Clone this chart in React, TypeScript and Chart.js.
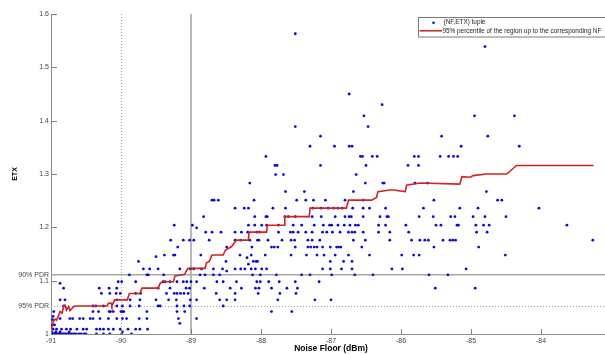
import { useEffect, useRef } from "react";
import { Chart, registerables } from "chart.js";

Chart.register(...registerables);

// Reference PDR thresholds expressed as ETX
const PDR90 = 1 / 0.9;
const PDR95 = 1 / 0.95;

const xTicks = [-91, -90, -89, -88, -87, -86, -85, -84];
const yTicks = [1, 1.1, 1.2, 1.3, 1.4, 1.5, 1.6];

// (NF, ETX) tuples, grouped by ETX level
const etxLevels = [
  1.0, 1.004, 1.009, 1.017, 1.02, 1.027, 1.029, 1.033, 1.042, 1.0525, 1.064, 1.076, 1.086, 1.095, 1.098,
  1.111, 1.118, 1.122, 1.131, 1.136, 1.143, 1.145, 1.148, 1.163, 1.176, 1.191, 1.199, 1.204, 1.22, 1.236,
  1.251, 1.267, 1.283, 1.299, 1.316, 1.333, 1.352, 1.371, 1.389, 1.409, 1.43, 1.45, 1.539, 1.563,
];

const nfByLevel = [
  [-91.0, -90.99, -90.98, -90.97, -90.96, -90.95, -90.94, -90.93, -90.92, -90.9, -90.88, -90.86, -90.84, -90.82, -90.8, -90.78, -90.76, -90.73, -90.7, -90.67, -90.64, -90.6, -90.57, -90.53, -90.5, -90.35, -90.25, -90.16, -89.99, -89.85],
  [-90.99, -90.93, -90.87, -90.74, -89.98],
  [-90.97, -90.92, -90.85, -90.78, -90.72, -90.63, -90.54, -90.49, -90.35, -90.3, -90.25, -90.18, -90.11, -90.01, -89.9, -89.79, -89.73, -89.62],
  [-90.98, -90.95],
  [-89.16],
  [-90.98],
  [-90.87, -90.73, -90.69, -90.59, -90.54, -90.44, -90.4, -90.3, -90.18, -90.06, -89.98, -89.92, -89.74, -89.63, -89.18, -88.92],
  [-90.97],
  [-90.96, -90.4, -90.32, -90.17, -90.15, -90.11, -90.0, -89.98, -89.96, -89.63, -89.2, -89.09, -87.85, -87.56],
  [-90.82, -90.4, -90.36, -90.25, -90.06, -89.98, -89.87, -89.74, -89.47, -89.44, -89.2, -89.1, -89.02, -88.54],
  [-90.87, -90.8, -90.06, -89.87, -89.73, -89.5, -89.32, -89.21, -89.01, -88.92, -88.59, -88.49, -88.37, -87.76, -87.23, -87.0],
  [-90.28, -90.16, -90.07, -90.01, -89.79, -89.72, -89.35, -89.24, -89.2, -89.15, -89.1, -89.04, -88.64, -88.37, -88.04, -87.73, -87.5],
  [-90.82, -90.31, -90.17, -90.06, -89.47, -89.3, -89.07, -89.02, -88.81, -88.44, -88.28, -88.08, -88.03, -87.85, -87.63, -87.48, -85.51, -84.94],
  [-90.87],
  [-90.04, -89.99, -89.79, -89.4, -89.37, -89.3, -89.2, -89.11, -89.06, -89.0, -88.92, -88.63, -88.54, -88.35, -88.06, -88.01, -87.89, -87.74, -87.51, -87.17],
  [-89.88, -89.63, -89.61, -89.39, -88.87, -88.8, -88.68, -88.59, -88.12, -88.01, -87.78, -87.42, -87.3, -86.99, -86.66, -86.4, -85.6, -85.33],
  [-88.49],
  [-89.68, -89.59, -89.47, -89.16, -89.01, -88.96, -88.85, -88.68, -88.55, -88.37, -88.29, -88.23, -88.14, -88.08, -87.99, -87.92, -87.12, -87.01, -86.85, -86.7, -86.13, -85.98, -85.07],
  [-88.18],
  [-89.75, -88.5, -88.11, -88.07, -88.05, -87.01, -86.82, -86.7],
  [-88.2],
  [-89.5],
  [-89.38, -89.25, -89.23, -88.86, -88.3, -88.14, -87.94, -87.57, -87.35, -87.2, -87.1, -86.94, -86.75, -86.45, -85.99, -85.82, -85.74, -84.51],
  [-89.19, -88.49, -88.13, -87.85, -87.81, -87.76, -87.51, -87.33, -87.29, -87.24, -87.2, -87.12, -87.01, -86.92, -86.89, -86.86, -86.56, -85.53, -84.89],
  [-89.29, -89.11, -89.02, -88.96, -88.74, -88.37, -88.29, -88.16, -88.05, -88.03, -87.9, -87.7, -87.57, -87.52, -87.33, -87.27, -87.16, -86.68, -86.51, -86.16, -85.85, -85.73, -85.66, -85.61, -85.4, -85.3, -85.26, -85.22, -83.26],
  [-88.79, -88.7, -88.57, -88.37, -88.28, -88.19, -88.06, -88.02, -87.75, -87.58, -87.54, -87.47, -87.36, -87.27, -87.12, -87.06, -86.98, -86.87, -86.75, -86.7, -86.66, -86.54, -86.32, -86.16, -85.89, -84.92, -84.77],
  [-88.92],
  [-89.24, -88.98, -88.18, -88.09, -87.99, -87.92, -87.75, -87.54, -87.42, -87.24, -87.11, -87.02, -86.99, -86.9, -86.81, -86.73, -86.65, -86.61, -86.32, -86.22, -85.93, -85.5, -85.43, -85.2, -85.18, -84.93, -84.82, -84.74, -83.63],
  [-88.82, -88.09, -87.93, -87.91, -87.66, -87.61, -87.51, -87.27, -87.14, -86.94, -86.8, -86.74, -86.71, -86.54, -86.3, -86.2, -86.18, -85.74, -85.54, -85.29, -85.23, -84.97, -84.8, -84.5],
  [-88.37, -88.24, -88.18, -87.83, -87.65, -87.26, -87.14, -87.04, -86.96, -86.9, -86.84, -86.69, -86.54, -86.45, -86.22, -85.68, -85.16, -84.9, -84.03],
  [-88.7, -88.67, -88.61, -88.1, -87.49, -87.36, -87.25, -87.08, -86.8, -86.54, -85.53, -84.62, -84.56],
  [-87.65, -87.38, -86.68, -84.78],
  [-88.16, -86.51, -86.26, -86.24, -85.8, -85.62],
  [-87.79, -87.68, -86.64],
  [-87.8, -87.77, -87.15, -86.5, -85.9, -85.75],
  [-87.93, -86.58, -86.55, -86.41, -86.34, -85.81, -85.75, -85.44, -85.32, -85.25, -85.19],
  [-87.3, -86.95, -86.74, -86.7, -85.14, -84.31],
  [-87.15, -85.42, -84.76],
  [-87.51, -86.47],
  [-86.53, -84.95, -84.38],
  [-86.27],
  [-86.74],
  [-84.8],
  [-87.51],
];

// Running 95th percentile of ETX up to each NF
const percentileNF = [
  -91.01, -90.99, -90.97, -90.94, -90.92, -90.9, -90.87, -90.84, -90.82, -90.8, -90.78, -90.75, -90.73, -90.7,
  -90.68, -90.66, -90.2, -90.18, -90.14, -90.13, -90.09, -89.91, -89.88, -89.73, -89.7, -89.47, -89.44, -89.41,
  -89.25, -89.23, -89.09, -89.06, -89.04, -88.8, -88.78, -88.74, -88.7, -88.54, -88.51, -88.42, -88.35, -88.18,
  -88.17, -87.92, -87.91, -87.67, -87.66, -87.31, -87.3, -86.78, -86.75, -86.42, -86.35, -86.33, -86.16, -86.11,
  -85.94, -85.92, -85.73, -85.16, -85.13, -85.01, -84.97, -84.78, -84.49, -84.35, -83.25,
];
const percentileETX = [
  1.0, 1.011, 1.023, 1.028, 1.026, 1.032, 1.042, 1.039, 1.0525, 1.054, 1.045, 1.051, 1.044, 1.048,
  1.051, 1.0525, 1.0525, 1.0575, 1.058, 1.0525, 1.064, 1.064, 1.076, 1.076, 1.086, 1.086, 1.095, 1.098,
  1.098, 1.109, 1.112, 1.12, 1.123, 1.123, 1.133, 1.136, 1.148, 1.148, 1.157, 1.164, 1.176, 1.176,
  1.191, 1.191, 1.204, 1.204, 1.22, 1.22, 1.236, 1.236, 1.251, 1.251, 1.256, 1.267, 1.27, 1.27,
  1.267, 1.279, 1.283, 1.281, 1.295, 1.294, 1.297, 1.3, 1.3, 1.316, 1.316,
];

const FONT = "'Liberation Sans', Arial, Helvetica, sans-serif";
const DOT = "#0a0ad2";
const RED = "#d42020";

const decorations = {
  id: "decorations",
  beforeDatasetsDraw(chart: any) {
    const { ctx, chartArea: a, scales } = chart;
    const x = scales.x;
    const y = scales.y;
    ctx.save();
    // dotted guides: NF = -90 and 95% PDR
    const xd = Math.round(x.getPixelForValue(-90)) + 0.5;
    ctx.strokeStyle = "#a0a0a0";
    ctx.lineWidth = 1;
    ctx.setLineDash([1, 2]);
    ctx.beginPath();
    ctx.moveTo(xd, a.top);
    ctx.lineTo(xd, a.bottom);
    ctx.stroke();
    const y95 = Math.round(y.getPixelForValue(PDR95)) + 0.5;
    ctx.beginPath();
    ctx.moveTo(a.left, y95);
    ctx.lineTo(a.right, y95);
    ctx.stroke();
    // solid guides: NF = -89 and 90% PDR
    ctx.setLineDash([]);
    ctx.strokeStyle = "#a8a8a8";
    ctx.lineWidth = 1.6;
    const xs = x.getPixelForValue(-89);
    ctx.beginPath();
    ctx.moveTo(xs, a.top);
    ctx.lineTo(xs, a.bottom);
    ctx.stroke();
    const y90 = y.getPixelForValue(PDR90);
    ctx.beginPath();
    ctx.moveTo(a.left, y90);
    ctx.lineTo(a.right, y90);
    ctx.stroke();
    ctx.restore();
  },
  afterDraw(chart: any) {
    const { ctx, chartArea: a, scales } = chart;
    const x = scales.x;
    const y = scales.y;
    ctx.save();
    // inward tick marks
    ctx.strokeStyle = "#808080";
    ctx.lineWidth = 1;
    ctx.beginPath();
    for (const v of xTicks) {
      const px = Math.round(x.getPixelForValue(v)) + 0.5;
      ctx.moveTo(px, a.bottom);
      ctx.lineTo(px, a.bottom - 5);
    }
    for (const v of yTicks) {
      const py = Math.round(y.getPixelForValue(v)) + 0.5;
      ctx.moveTo(a.left, py);
      ctx.lineTo(a.left + 6, py);
    }
    ctx.stroke();

    // legend box
    const bx = a.left + 367.5;
    const by = a.top + 3.5;
    ctx.fillStyle = "#ffffff";
    ctx.fillRect(bx, by, 200, 19.5);
    ctx.strokeStyle = "#7a7a7a";
    ctx.lineWidth = 1;
    ctx.strokeRect(bx, by, 200, 19.5);
    ctx.fillStyle = DOT;
    ctx.beginPath();
    ctx.arc(bx + 15, by + 5.2, 1.3, 0, Math.PI * 2);
    ctx.fill();
    ctx.strokeStyle = RED;
    ctx.lineWidth = 1.5;
    ctx.beginPath();
    ctx.moveTo(bx + 1, by + 13.3);
    ctx.lineTo(bx + 23.5, by + 13.3);
    ctx.stroke();
    ctx.fillStyle = "#222222";
    ctx.font = `6.4px ${FONT}`;
    ctx.textBaseline = "middle";
    ctx.textAlign = "left";
    ctx.fillText("(NF,ETX) tuple", bx + 25, by + 5.2);
    ctx.fillText("95% percentile of the region up to the corresponding NF", bx + 24, by + 13.3);
    ctx.restore();
  },
};

export default function App() {
  const ref = useRef<HTMLCanvasElement>(null);

  useEffect(() => {
    const canvas = ref.current;
    if (!canvas) return;

    const points: { x: number; y: number }[] = [];
    etxLevels.forEach((etx, i) => {
      for (const nf of nfByLevel[i]) points.push({ x: nf, y: etx });
    });
    const line = percentileNF.map((nf, i) => ({ x: nf, y: percentileETX[i] }));

    const chart = new Chart(canvas, {
      type: "scatter",
      data: {
        datasets: [
          {
            label: "95% percentile of the region up to the corresponding NF",
            data: line,
            showLine: true,
            borderColor: RED,
            backgroundColor: RED,
            borderWidth: 1.6,
            pointRadius: 0,
            tension: 0,
            order: 0,
          } as any,
          {
            label: "(NF,ETX) tuple",
            data: points,
            backgroundColor: DOT,
            borderWidth: 0,
            pointRadius: 1.4,
            pointHoverRadius: 1.4,
            order: 1,
          },
        ],
      },
      options: {
        animation: false,
        responsive: false,
        devicePixelRatio: 1,
        layout: { padding: { top: 14, right: 5, left: 0, bottom: 0 } },
        plugins: { legend: { display: false }, tooltip: { enabled: false } },
        scales: {
          x: {
            type: "linear",
            min: -91,
            max: -83,
            grid: { display: false, drawTicks: false },
            border: { display: true, color: "#8a8a8a", width: 1 },
            afterBuildTicks: (s: any) => {
              s.ticks = xTicks.map((v) => ({ value: v }));
            },
            afterFit: (s: any) => {
              s.height = 20;
            },
            ticks: {
              autoSkip: false,
              maxRotation: 0,
              padding: 3,
              color: "#444444",
              font: { family: FONT, size: 7 },
              callback: (v: any) => String(v),
            },
            title: {
              display: true,
              text: "Noise Floor (dBm)",
              color: "#000000",
              font: { family: FONT, size: 8.5, weight: "bold" },
              padding: { top: 0, bottom: 0 },
            },
          },
          y: {
            type: "linear",
            min: 1,
            max: 1.6,
            grid: { display: false, drawTicks: false },
            border: { display: true, color: "#8a8a8a", width: 1 },
            afterBuildTicks: (s: any) => {
              s.ticks = [1, PDR95, 1.1, PDR90, 1.2, 1.3, 1.4, 1.5, 1.6].map((v) => ({ value: v }));
            },
            afterFit: (s: any) => {
              s.width = 51;
            },
            ticks: {
              autoSkip: false,
              padding: 2,
              color: "#444444",
              font: { family: FONT, size: 7 },
              callback: (v: any) => {
                if (Math.abs(v - PDR95) < 1e-6) return "95% PDR";
                if (Math.abs(v - PDR90) < 1e-6) return "90% PDR";
                if (v === 1) return "1";
                return Number(v).toFixed(1);
              },
            },
            title: {
              display: true,
              text: "ETX",
              color: "#000000",
              font: { family: FONT, size: 7, weight: "bold" },
              padding: { top: 11, bottom: 0 },
            },
          },
        },
      },
      plugins: [decorations],
    });

    return () => chart.destroy();
  }, []);

  return (
    <div
      style={{
        position: "absolute",
        left: 0,
        top: 0,
        width: 605,
        height: 354,
        overflow: "hidden",
        background: "#ffffff",
      }}
    >
      <canvas ref={ref} width={616} height={354} style={{ display: "block" }} />
    </div>
  );
}
